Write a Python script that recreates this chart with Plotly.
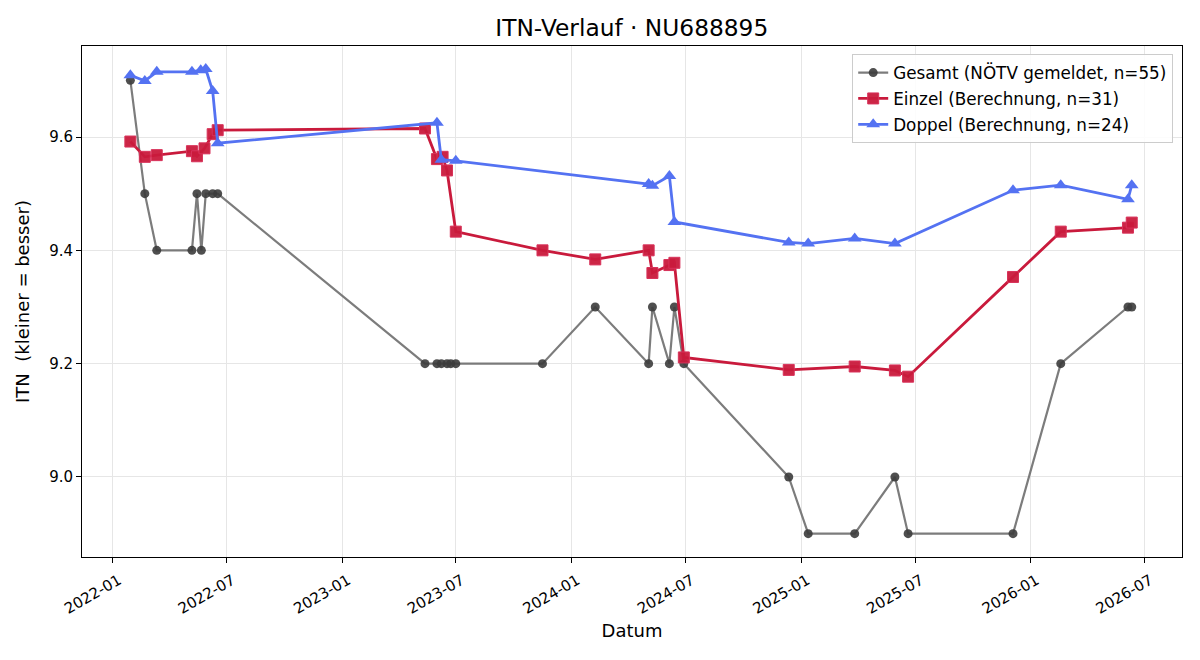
import plotly.graph_objects as go

# ---- data ----
gesamt_dates = ["2022-01-29", "2022-02-21", "2022-03-12", "2022-05-07", "2022-05-15",
                "2022-05-22", "2022-05-29", "2022-06-09", "2022-06-17",
                "2023-05-13", "2023-06-01", "2023-06-08", "2023-06-17", "2023-06-23",
                "2023-07-01", "2023-11-16", "2024-02-08", "2024-05-03", "2024-05-09",
                "2024-06-05", "2024-06-13", "2024-06-28", "2024-12-12", "2025-01-12",
                "2025-03-27", "2025-05-30", "2025-06-20", "2025-12-04", "2026-02-18",
                "2026-06-05", "2026-06-11"]
gesamt_itn = [9.7, 9.5, 9.4, 9.4, 9.5,
              9.4, 9.5, 9.5, 9.5,
              9.2, 9.2, 9.2, 9.2, 9.2,
              9.2, 9.2, 9.3, 9.2, 9.3,
              9.2, 9.3, 9.2, 9.0, 8.9,
              8.9, 9.0, 8.9, 8.9, 9.2,
              9.3, 9.3]

einzel_dates = ["2022-01-29", "2022-02-21", "2022-03-12", "2022-05-07", "2022-05-15",
                "2022-05-27", "2022-06-09", "2022-06-17",
                "2023-05-13", "2023-06-01", "2023-06-10", "2023-06-17", "2023-07-01",
                "2023-11-16", "2024-02-08", "2024-05-03", "2024-05-09", "2024-06-05",
                "2024-06-13", "2024-06-28", "2024-12-12", "2025-03-27", "2025-05-30",
                "2025-06-20", "2025-12-04", "2026-02-18", "2026-06-05", "2026-06-11"]
einzel_itn = [9.592, 9.565, 9.568, 9.575, 9.566,
              9.580, 9.605, 9.612,
              9.615, 9.561, 9.565, 9.541, 9.433,
              9.400, 9.384, 9.400, 9.360, 9.374,
              9.378, 9.211, 9.189, 9.195, 9.188,
              9.177, 9.353, 9.433, 9.440, 9.449]

doppel_dates = ["2022-01-29", "2022-02-21", "2022-03-12", "2022-05-07", "2022-05-21",
                "2022-05-29", "2022-06-09", "2022-06-17",
                "2023-06-01", "2023-06-08", "2023-07-01",
                "2024-05-03", "2024-05-09", "2024-06-05", "2024-06-13",
                "2024-12-12", "2025-01-12", "2025-03-27", "2025-05-30",
                "2025-12-04", "2026-02-18", "2026-06-05", "2026-06-11"]
doppel_itn = [9.709, 9.699, 9.715, 9.715, 9.718,
              9.720, 9.681, 9.589,
              9.625, 9.560, 9.558,
              9.517, 9.514, 9.531, 9.450,
              9.414, 9.412, 9.421, 9.412,
              9.506, 9.515, 9.490, 9.515]

x_ticks = ["2022-01-01", "2022-07-01", "2023-01-01", "2023-07-01", "2024-01-01",
           "2024-07-01", "2025-01-01", "2025-07-01", "2026-01-01", "2026-07-01"]
x_tick_labels = ["2022-01", "2022-07", "2023-01", "2023-07", "2024-01",
                 "2024-07", "2025-01", "2025-07", "2026-01", "2026-07"]
y_ticks = [9.0, 9.2, 9.4, 9.6]

FONT = "DejaVu Sans"

fig = go.Figure()
fig.add_trace(go.Scatter(
    x=gesamt_dates, y=gesamt_itn, mode="lines+markers",
    name="Gesamt (NÖTV gemeldet, n=55)", legendgroup="g",
    line=dict(color="rgba(110,110,110,0.9)", width=2.2),
    marker=dict(symbol="circle", size=9, color="rgba(60,60,60,0.9)",
                line=dict(width=0))))
fig.add_trace(go.Scatter(
    x=einzel_dates, y=einzel_itn, mode="lines+markers",
    name="Einzel (Berechnung, n=31)", legendgroup="e",
    line=dict(color="#c91a3c", width=2.8),
    marker=dict(symbol="square", size=11, color="rgba(201,26,60,0.95)",
                line=dict(width=1, color="#d8325a"))))
fig.add_trace(go.Scatter(
    x=doppel_dates, y=doppel_itn, mode="lines+markers",
    name="Doppel (Berechnung, n=24)", legendgroup="d",
    line=dict(color="#5472f2", width=2.8),
    marker=dict(symbol="triangle-up", size=12, color="#5472f2",
                line=dict(width=0))))

fig.update_layout(
    width=1200, height=660,
    margin=dict(l=82, r=18, t=46, b=103),
    paper_bgcolor="white", plot_bgcolor="white",
    font=dict(family=FONT, size=15, color="black"),
    title=dict(text="ITN-Verlauf · NU688895", x=0.5265, xanchor="center",
               y=1 - 28 / 660, yref="container", yanchor="middle",
               font=dict(family=FONT, size=23.3, color="black")),
    legend=dict(x=0.992, y=0.984, xanchor="right", yanchor="top",
                bgcolor="rgba(255,255,255,0.85)", bordercolor="#cccccc",
                borderwidth=1, font=dict(family=FONT, size=16.8),
                tracegroupgap=1),
    showlegend=True,
)
fig.update_xaxes(
    range=["2021-11-13", "2026-08-30"],
    tickmode="array", tickvals=x_ticks, ticktext=x_tick_labels,
    tickangle=-30, ticks="outside", ticklen=5, tickcolor="black",
    tickfont=dict(family=FONT, size=15),
    ticklabelshift=6, ticklabelstandoff=3,
    showgrid=True, gridcolor="#e6e6e6", gridwidth=1,
    showline=True, linecolor="black", linewidth=1, mirror=True,
    zeroline=False,
    title=dict(text="Datum", font=dict(family=FONT, size=18), standoff=7),
    automargin=False,
)
fig.update_yaxes(
    range=[8.8588, 9.7606],
    tickmode="array", tickvals=y_ticks, tickformat=".1f",
    ticks="outside", ticklen=5, tickcolor="black",
    tickfont=dict(family=FONT, size=15),
    showgrid=True, gridcolor="#e6e6e6", gridwidth=1,
    showline=True, linecolor="black", linewidth=1, mirror=True,
    zeroline=False,
    title=dict(text="ITN  (kleiner = besser)", font=dict(family=FONT, size=18),
               standoff=14),
    automargin=False,
)

fig.write_html("out.html")
